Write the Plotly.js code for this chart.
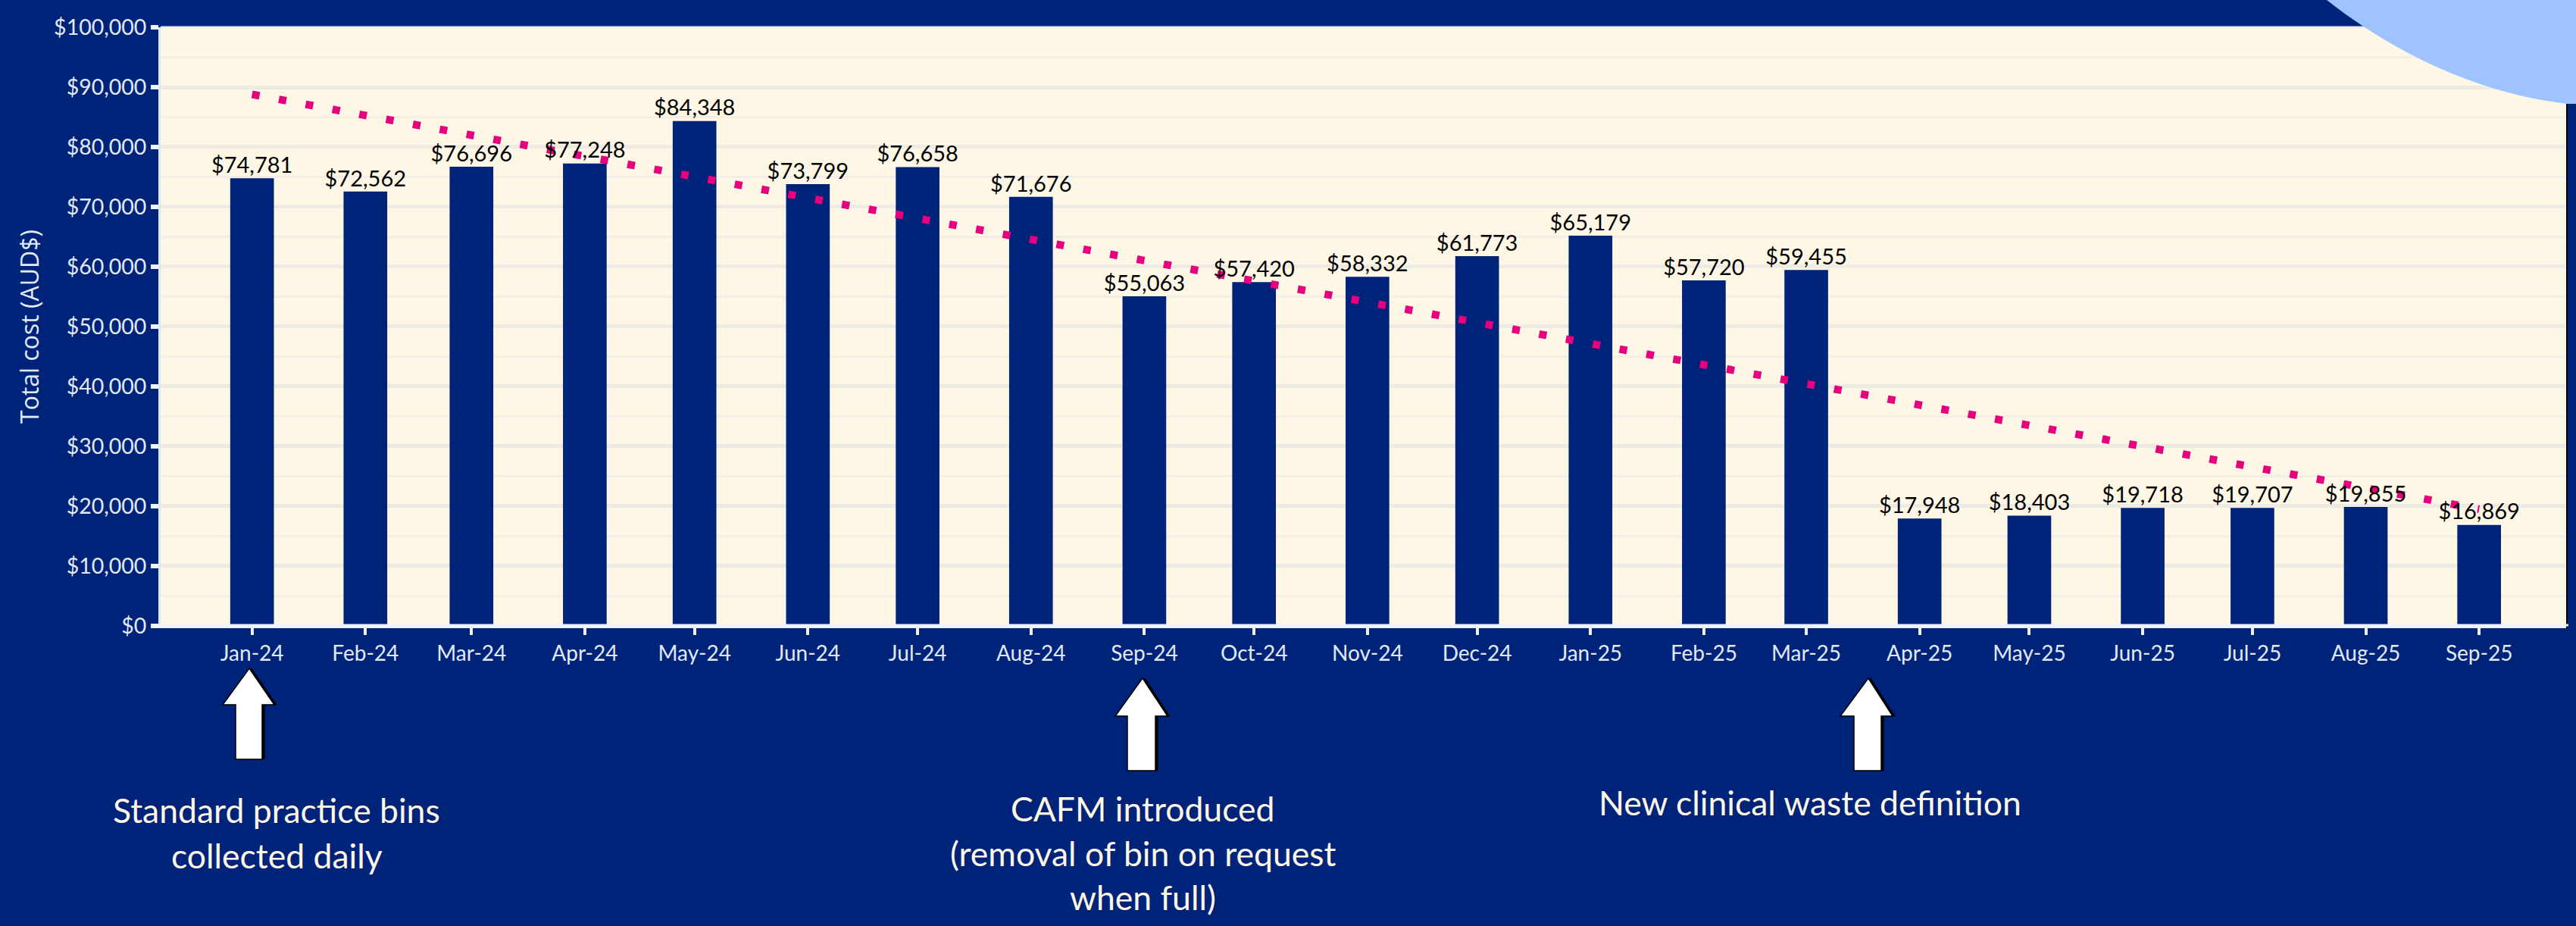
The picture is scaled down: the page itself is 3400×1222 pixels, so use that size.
<!DOCTYPE html>
<html>
<head>
<meta charset="utf-8">
<script src="https://cdn.plot.ly/plotly-3.0.1.min.js"></script>
<style>html,body{margin:0;padding:0;background:#00237A;}</style>
</head>
<body>
<div id="chart" style="width:3400px;height:1222px;"></div>
<script>
const months = ["2024-01-01","2024-02-01","2024-03-01","2024-04-01","2024-05-01","2024-06-01","2024-07-01","2024-08-01","2024-09-01","2024-10-01","2024-11-01","2024-12-01","2025-01-01","2025-02-01","2025-03-01","2025-04-01","2025-05-01","2025-06-01","2025-07-01","2025-08-01","2025-09-01"];
const monthLabels = ["Jan-24","Feb-24","Mar-24","Apr-24","May-24","Jun-24","Jul-24","Aug-24","Sep-24","Oct-24","Nov-24","Dec-24","Jan-25","Feb-25","Mar-25","Apr-25","May-25","Jun-25","Jul-25","Aug-25","Sep-25"];
const totalCost = [74781,72562,76696,77248,84348,73799,76658,71676,55063,57420,58332,61773,65179,57720,59455,17948,18403,19718,19707,19855,16869];
const costLabels = ["$74,781","$72,562","$76,696","$77,248","$84,348","$73,799","$76,658","$71,676","$55,063","$57,420","$58,332","$61,773","$65,179","$57,720","$59,455","$17,948","$18,403","$19,718","$19,707","$19,855","$16,869"];
const trendDates = ["2024-01-01","2025-09-01"];
const trendValues = [88800,19500];
const yTicks = [0,10000,20000,30000,40000,50000,60000,70000,80000,90000,100000];
const yTickLabels = ["$0","$10,000","$20,000","$30,000","$40,000","$50,000","$60,000","$70,000","$80,000","$90,000","$100,000"];
const yMinorTicks = [5000,15000,25000,35000,45000,55000,65000,75000,85000,95000];

const NAVY = "#00237A", CREAM = "#FEF7E6", LIGHT = "#E0EAF7", AXIS = "#EEF3FB";
const L = 212, R = 3388, T = 36, B = 826;
const px = x => (x - L) / (R - L);
const py = y => (B - y) / (B - T);
const pt = (x, y) => px(x) + "," + py(y);
const poly = (pts) => "M" + pts.map(p => pt(p[0], p[1])).join("L") + "Z";
const rect = (x0, y0, x1, y1, color) => ({type:"rect", xref:"paper", yref:"paper", layer:"above", x0:px(x0), x1:px(x1), y0:py(y0), y1:py(y1), fillcolor:color, line:{width:0}});

function arrow(a, dx, fill, lineColor, w) {
  const [tip,top,headBase,hl,hr,sl,sr,bottom] = a;
  return {type:"path", xref:"paper", yref:"paper", layer:"above",
    path: poly([[tip+dx,top],[hr+dx,headBase],[sr+dx,headBase],[sr+dx,bottom],[sl+dx,bottom],[sl+dx,headBase],[hl+dx,headBase]]),
    fillcolor: fill, line:{color: lineColor, width: w}};
}
const arrows = [[329,882,930,294,362,311,346,1002],[1508,895,945,1472,1541,1488,1525,1017],[2466,895,945,2429,2498,2447,2483,1017]];
const shapes = [
  rect(212,34.5,3200,36.5,"#DCE6F5"),
  rect(3387,137,3389,829,"#000000"),
  rect(200,823.5,3390,826.5,AXIS)
];
arrows.forEach(a => { shapes.push(arrow(a, 3, "#000000", "#000000", 1)); shapes.push(arrow(a, 0, "#FFFFFF", "#000000", 1.5)); });
shapes.push({type:"path", xref:"paper", yref:"paper", layer:"above", fillcolor:"#9FC3FF", line:{width:0},
  path:"M"+pt(3071,0)+"C"+pt(3150,62)+" "+pt(3260,122)+" "+pt(3388,137)+"L"+pt(3400,137)+"L"+pt(3400,0)+"Z"});

const note = (text, x, y) => ({text, xref:"paper", yref:"paper", x:px(x), y:py(y), xanchor:"center", yanchor:"middle", showarrow:false, align:"center", font:{family:"Lato", size:44.5, color:CREAM}});
const annotations = [
  note("Standard practice bins", 365, 1068), note("collected daily", 365, 1128),
  note("CAFM introduced", 1508, 1066), note("(removal of bin on request", 1508, 1125), note("when full)", 1508, 1183),
  note("New clinical waste definition", 2389, 1058)
];

const traces = [
  {type:"bar", x:months, y:totalCost, width:1032000000, marker:{color:NAVY, line:{width:0}}, hoverinfo:"x+y"},
  {type:"scatter", mode:"lines", x:trendDates, y:trendValues, line:{color:"#E6007E", width:10, dash:"10px,26px"}, hoverinfo:"skip"},
  {type:"scatter", mode:"text", x:months, y:totalCost, text:costLabels, textposition:"top center", textfont:{family:"Lato", size:29, color:"#000000"}, cliponaxis:false, hoverinfo:"skip"}
];
const layout = {
  width:3400, height:1222, paper_bgcolor:NAVY, plot_bgcolor:CREAM, showlegend:false,
  margin:{l:L, r:3400-R, t:T, b:1222-B, pad:0},
  xaxis:{type:"date", range:["2023-12-07","2025-09-25"], tickmode:"array", tickvals:months, ticktext:monthLabels, showgrid:false,
    ticks:"outside", ticklen:9, tickwidth:4, tickcolor:AXIS, showline:true, linecolor:AXIS, linewidth:3, zeroline:false,
    tickfont:{family:"Lato", size:28, color:LIGHT}, tickangle:0},
  yaxis:{range:[-4,100000], tickmode:"array", tickvals:yTicks, ticktext:yTickLabels, showgrid:true, gridcolor:"#EEEBE5", gridwidth:5,
    minor:{tickmode:"array", tickvals:yMinorTicks, showgrid:true, gridcolor:"#F3EEE6", gridwidth:3, ticks:""},
    ticks:"outside", ticklen:10, tickwidth:6, tickcolor:AXIS, showline:true, linecolor:"#DCE6F5", linewidth:3, zeroline:false,
    tickfont:{family:"Lato", size:28.5, color:LIGHT},
    title:{text:"Total cost (AUD$)", font:{family:"Open Sans", size:32, color:LIGHT}, standoff:10}},
  shapes, annotations
};
Plotly.newPlot("chart", traces, layout, {displayModeBar:false, responsive:false});
</script>
</body>
</html>
